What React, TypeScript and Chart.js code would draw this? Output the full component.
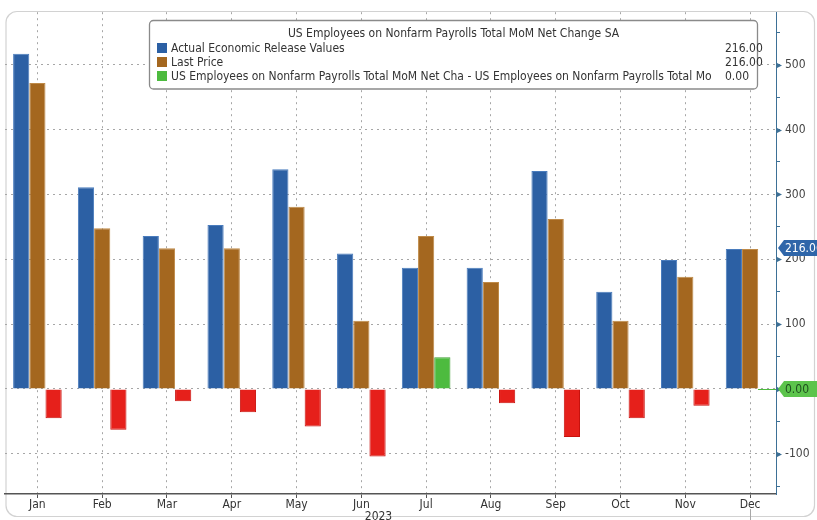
import React, { useEffect, useRef } from "react";
import { Chart, registerables } from "chart.js";

Chart.register(...registerables);

const months = ["Jan", "Feb", "Mar", "Apr", "May", "Jun", "Jul", "Aug", "Sep", "Oct", "Nov", "Dec"];
const actualValues = [517, 311, 236, 253, 339, 209, 187, 187, 336, 150, 199, 216];
const lastPrice = [472, 248, 217, 217, 281, 105, 236, 165, 262, 105, 173, 216];
const netChange = [-45, -63, -19, -36, -58, -104, 49, -22, -74, -45, -26, 0];

const seriesLabels = [
  "Actual Economic Release Values",
  "Last Price",
  "US Employees on Nonfarm Payrolls Total MoM Net Cha - US Employees on Nonfarm Payrolls Total Mo",
];
const legendTitle = "US Employees on Nonfarm Payrolls Total MoM Net Change SA";
const legendValues = ["216.00", "216.00", "0.00"];
const yearLabel = "2023";
const majorTicks = [-100, 0, 100, 200, 300, 400, 500];

const FONT = "'DejaVu Sans Condensed', 'Liberation Sans', sans-serif";
const BLUE = "#2c60a4";
const BROWN = "#a4671f";
const RED = "#e6201b";
const GREEN = "#4dbb3f";
const AXIS = "#3d7096";

function roundRectPath(ctx: CanvasRenderingContext2D, x: number, y: number, w: number, h: number, r: number) {
  ctx.beginPath();
  ctx.moveTo(x + r, y);
  ctx.lineTo(x + w - r, y);
  ctx.arcTo(x + w, y, x + w, y + r, r);
  ctx.lineTo(x + w, y + h - r);
  ctx.arcTo(x + w, y + h, x + w - r, y + h, r);
  ctx.lineTo(x + r, y + h);
  ctx.arcTo(x, y + h, x, y + h - r, r);
  ctx.lineTo(x, y + r);
  ctx.arcTo(x, y, x + r, y, r);
  ctx.closePath();
}

function drawTag(ctx: CanvasRenderingContext2D, y: number, text: string, fill: string, color: string) {
  const x0 = 778;
  const h = 16;
  ctx.beginPath();
  ctx.moveTo(x0, y);
  ctx.lineTo(x0 + 6, y - h / 2);
  ctx.lineTo(820, y - h / 2);
  ctx.lineTo(820, y + h / 2);
  ctx.lineTo(x0 + 6, y + h / 2);
  ctx.closePath();
  ctx.fillStyle = fill;
  ctx.fill();
  ctx.fillStyle = color;
  ctx.font = `12px ${FONT}`;
  ctx.textAlign = "left";
  ctx.textBaseline = "middle";
  ctx.fillText(text, x0 + 7, y + 0.5);
}

const decorPlugin = {
  id: "decor",
  beforeDraw(chart: any) {
    const ctx: CanvasRenderingContext2D = chart.ctx;
    ctx.save();
    ctx.fillStyle = "#ffffff";
    ctx.fillRect(0, 0, chart.width, chart.height);
    ctx.strokeStyle = "#d2d2d2";
    ctx.lineWidth = 1.2;
    roundRectPath(ctx, 6, 11.5, 808.5, 505, 11);
    ctx.stroke();
    ctx.restore();
  },
  afterDraw(chart: any) {
    const ctx: CanvasRenderingContext2D = chart.ctx;
    const y = chart.scales.y;
    const x = chart.scales.x;
    const area = chart.chartArea;
    ctx.save();

    // major tick arrowheads on right axis
    ctx.fillStyle = AXIS;
    majorTicks.forEach((v) => {
      const py = Math.round(y.getPixelForValue(v)) + 0.5;
      ctx.beginPath();
      ctx.moveTo(area.right, py - 3);
      ctx.lineTo(area.right + 6, py);
      ctx.lineTo(area.right, py + 3);
      ctx.closePath();
      ctx.fill();
    });

    // legend box
    const bx = 149.5, by = 20.5, bw = 608, bh = 68.5;
    roundRectPath(ctx, bx, by, bw, bh, 4);
    ctx.fillStyle = "#ffffff";
    ctx.fill();
    ctx.strokeStyle = "#8a8a8a";
    ctx.lineWidth = 1.3;
    ctx.stroke();

    ctx.font = `12px ${FONT}`;
    ctx.fillStyle = "#333333";
    ctx.textBaseline = "middle";
    ctx.textAlign = "center";
    ctx.fillText(legendTitle, bx + bw / 2, 34);
    const colors = [BLUE, BROWN, GREEN];
    const rows = [48, 62, 76];
    seriesLabels.forEach((lab, i) => {
      ctx.fillStyle = colors[i];
      ctx.fillRect(157, rows[i] - 5, 10, 10);
      ctx.fillStyle = "#333333";
      ctx.textAlign = "left";
      ctx.fillText(lab, 171, rows[i] + 0.5);
      ctx.fillText(legendValues[i], 725, rows[i] + 0.5);
    });

    // year label
    ctx.textAlign = "center";
    ctx.textBaseline = "top";
    ctx.fillStyle = "#333333";
    ctx.fillText(yearLabel, (area.left + area.right) / 2 - 12, 511);

    // current marker line below Dec
    const dx = Math.round(x.getPixelForValue(months.length - 1)) + 0.5;
    ctx.strokeStyle = "#a8a8a8";
    ctx.lineWidth = 1;
    ctx.beginPath();
    ctx.moveTo(dx, 509);
    ctx.lineTo(dx, 520);
    ctx.stroke();

    // green level line and tags
    const zy = y.getPixelForValue(netChange[netChange.length - 1]);
    ctx.strokeStyle = GREEN;
    ctx.lineWidth = 1;
    ctx.beginPath();
    ctx.moveTo(758, Math.round(zy) + 0.5);
    ctx.lineTo(area.right, Math.round(zy) + 0.5);
    ctx.stroke();
    drawTag(ctx, y.getPixelForValue(actualValues[actualValues.length - 1]) - 1, legendValues[0], "#2f66a9", "#ffffff");
    drawTag(ctx, zy, legendValues[2], "#5cc44c", "#1f4f1f");
    ctx.restore();
  },
};

export default function App() {
  const ref = useRef<HTMLCanvasElement | null>(null);
  useEffect(() => {
    if (!ref.current) return;
    const toXY = (arr: number[]) => arr.map((v, i) => ({ x: i, y: v }));
    const chart = new Chart(ref.current, {
      type: "bar",
      data: {
        datasets: [
          {
            label: seriesLabels[0],
            data: toXY(actualValues),
            backgroundColor: BLUE,
            borderColor: "#4a7cbd",
            borderWidth: 1,
          },
          {
            label: seriesLabels[1],
            data: toXY(lastPrice),
            backgroundColor: BROWN,
            borderColor: "#bf8a48",
            borderWidth: 1,
          },
          {
            label: seriesLabels[2],
            data: toXY(netChange),
            backgroundColor: (c: any) => ((c.raw && c.raw.y >= 0) ? GREEN : RED),
            borderColor: (c: any) => ((c.raw && c.raw.y >= 0) ? "#3e9f32" : "#c8120e"),
            borderWidth: 1,
          },
        ],
      } as any,
      options: {
        responsive: false,
        animation: false,
        events: [],
        layout: { padding: { top: 11, left: 5, right: 0, bottom: 0 } },
        plugins: { legend: { display: false }, tooltip: { enabled: false } },
        datasets: { bar: { categoryPercentage: 0.75, barPercentage: 1 } },
        scales: {
          x: {
            type: "linear",
            min: -0.5,
            max: 11.4,
            offset: false,
            afterFit: (s: any) => {
              s.height = 26;
            },
            ticks: {
              stepSize: 1,
              includeBounds: false,
              autoSkip: false,
              maxRotation: 0,
              minRotation: 0,
              callback: (v: any) => months[v as number] ?? "",
              font: { size: 12, family: FONT },
              color: "#333333",
              padding: 0,
            },
            grid: { offset: false, color: "#a6a6a6", lineWidth: 1, drawTicks: true, tickLength: 4, tickColor: "#555555" },
            border: { display: true, color: "#555555", width: 1.5, dash: [2, 4] },
          },
          y: {
            position: "right",
            min: -162,
            max: 581,
            afterFit: (s: any) => {
              s.width = 41;
            },
            ticks: {
              stepSize: 50,
              includeBounds: false,
              autoSkip: false,
              callback: (v: any) => ((v as number) % 100 === 0 ? String(v) : ""),
              font: { size: 12, family: FONT },
              color: "#444444",
              padding: 5,
            },
            grid: {
              offset: false,
              color: (c: any) => (c.tick && c.tick.value % 100 === 0 ? "#a6a6a6" : "rgba(0,0,0,0)"),
              lineWidth: 1,
              tickLength: 4,
              tickColor: AXIS,
            },
            border: { display: true, color: AXIS, width: 1, dash: [2, 4] },
          },
        },
      } as any,
      plugins: [decorPlugin],
    });
    return () => chart.destroy();
  }, []);
  return (
    <div style={{ position: "fixed", left: 0, top: 0, width: 817, height: 520, background: "#fff" }}>
      <canvas ref={ref} width={817} height={520} style={{ display: "block" }} />
    </div>
  );
}
